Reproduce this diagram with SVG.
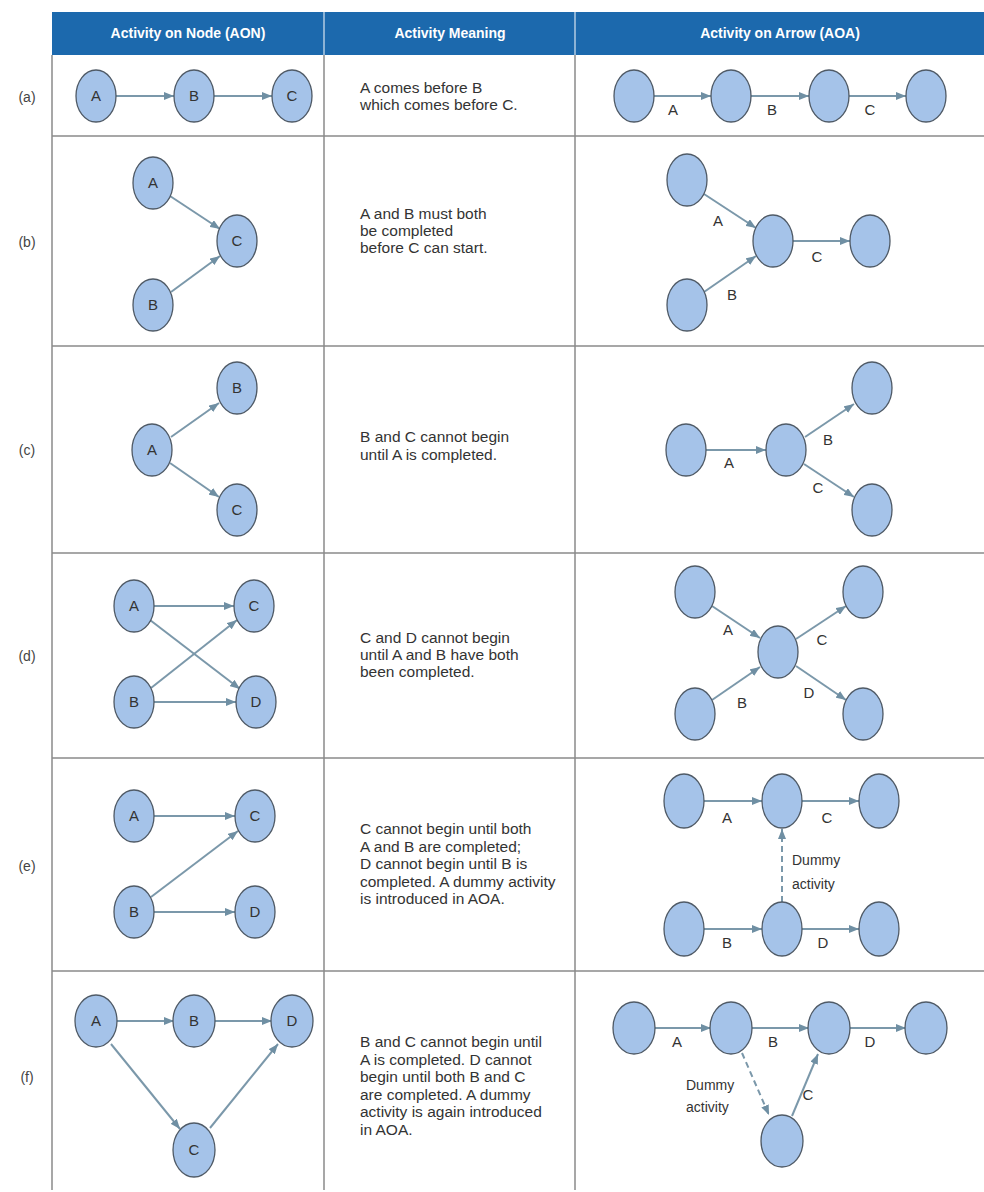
<svg xmlns="http://www.w3.org/2000/svg" width="984" height="1192" viewBox="0 0 984 1192">
<style>
.bg{fill:#ffffff}
.hdr{fill:#1c69ad}
.hdrtxt{font-family:"Liberation Sans",Arial,sans-serif;font-size:14px;font-weight:bold;fill:#ffffff;text-anchor:middle}
.grid{stroke:#8a8a8a;stroke-width:1.5;fill:none}
.hdiv{stroke:#d8e4f0;stroke-width:1.2}
.rl{font-family:"Liberation Sans",Arial,sans-serif;font-size:14px;fill:#444;text-anchor:middle}
.n ellipse{fill:#a5c3e9;stroke:#4f5a66;stroke-width:1.3}
.n text{font-family:"Liberation Sans",Arial,sans-serif;font-size:15px;fill:#333;text-anchor:middle}
.e{stroke:#7b98aa;stroke-width:2;fill:none;marker-end:url(#ah)}
.d{stroke-dasharray:6 4}
.el{font-family:"Liberation Sans",Arial,sans-serif;font-size:15px;fill:#333;text-anchor:middle}
.dl{font-family:"Liberation Sans",Arial,sans-serif;font-size:14px;fill:#333}
.m{font-family:"Liberation Sans",Arial,sans-serif;font-size:15.5px;fill:#333}
</style>
<defs>
<marker id="ah" markerUnits="userSpaceOnUse" markerWidth="10" markerHeight="8" refX="10" refY="4" orient="auto">
<path d="M0,0 L10,4 L0,8 z" fill="#6f8fa3"/>
</marker>
</defs>
<rect class="bg" x="0" y="0" width="984" height="1192"/>
<g id="table">
<rect class="hdr" x="52" y="12" width="932" height="43"/>
<line class="hdiv" x1="324" y1="12" x2="324" y2="55"/>
<line class="hdiv" x1="575" y1="12" x2="575" y2="55"/>
<text class="hdrtxt" x="188" y="38">Activity on Node (AON)</text>
<text class="hdrtxt" x="450" y="38">Activity Meaning</text>
<text class="hdrtxt" x="780" y="38">Activity on Arrow (AOA)</text>
<line class="grid" x1="52" y1="55" x2="52" y2="1190"/>
<line class="grid" x1="324" y1="55" x2="324" y2="1190"/>
<line class="grid" x1="575" y1="55" x2="575" y2="1190"/>
<line class="grid" x1="52" y1="136" x2="984" y2="136"/>
<line class="grid" x1="52" y1="346" x2="984" y2="346"/>
<line class="grid" x1="52" y1="553" x2="984" y2="553"/>
<line class="grid" x1="52" y1="758" x2="984" y2="758"/>
<line class="grid" x1="52" y1="971" x2="984" y2="971"/>
</g>
<g id="row-labels">
<text class="rl" x="27" y="102">(a)</text>
<text class="rl" x="27" y="247">(b)</text>
<text class="rl" x="27" y="455">(c)</text>
<text class="rl" x="27" y="661">(d)</text>
<text class="rl" x="27" y="871">(e)</text>
<text class="rl" x="27" y="1082">(f)</text>
</g>
<g id="meanings">
<text class="m" x="360" y="93">A comes before B</text>
<text class="m" x="360" y="110">which comes before C.</text>
<text class="m" x="360" y="219">A and B must both</text>
<text class="m" x="360" y="236">be completed</text>
<text class="m" x="360" y="253">before C can start.</text>
<text class="m" x="360" y="442">B and C cannot begin</text>
<text class="m" x="360" y="460">until A is completed.</text>
<text class="m" x="360" y="643">C and D cannot begin</text>
<text class="m" x="360" y="660">until A and B have both</text>
<text class="m" x="360" y="677">been completed.</text>
<text class="m" x="360" y="834">C cannot begin until both</text>
<text class="m" x="360" y="851.5">A and B are completed;</text>
<text class="m" x="360" y="869">D cannot begin until B is</text>
<text class="m" x="360" y="886.5">completed. A dummy activity</text>
<text class="m" x="360" y="904">is introduced in AOA.</text>
<text class="m" x="360" y="1047">B and C cannot begin until</text>
<text class="m" x="360" y="1064.5">A is completed. D cannot</text>
<text class="m" x="360" y="1082">begin until both B and C</text>
<text class="m" x="360" y="1099.5">are completed. A dummy</text>
<text class="m" x="360" y="1117">activity is again introduced</text>
<text class="m" x="360" y="1134.5">in AOA.</text>
</g>
<g id="connectors">
<line class="e" x1="116" y1="96" x2="174" y2="96"/>
<line class="e" x1="214" y1="96" x2="272" y2="96"/>
<line class="e" x1="654" y1="96" x2="711" y2="96"/>
<line class="e" x1="751" y1="96" x2="809" y2="96"/>
<line class="e" x1="849" y1="96" x2="906" y2="96"/>
<line class="e" x1="170" y1="196" x2="220" y2="229"/>
<line class="e" x1="171" y1="292" x2="220" y2="256"/>
<line class="e" x1="704" y1="194" x2="756" y2="228"/>
<line class="e" x1="704" y1="292" x2="756" y2="256"/>
<line class="e" x1="793" y1="241" x2="850" y2="241"/>
<line class="e" x1="171" y1="437" x2="219" y2="403"/>
<line class="e" x1="170" y1="463" x2="219" y2="497"/>
<line class="e" x1="706" y1="450" x2="766" y2="450"/>
<line class="e" x1="805" y1="437" x2="854" y2="404"/>
<line class="e" x1="804" y1="464" x2="854" y2="497"/>
<line class="e" x1="154" y1="606" x2="234" y2="606"/>
<line class="e" x1="150" y1="620" x2="240" y2="689"/>
<line class="e" x1="151" y1="688" x2="237" y2="620"/>
<line class="e" x1="154" y1="702" x2="236" y2="702"/>
<line class="e" x1="712" y1="606" x2="760" y2="638"/>
<line class="e" x1="712" y1="700" x2="760" y2="667"/>
<line class="e" x1="796" y1="639" x2="846" y2="606"/>
<line class="e" x1="796" y1="666" x2="846" y2="700"/>
<line class="e" x1="154" y1="816" x2="235" y2="816"/>
<line class="e" x1="151" y1="897" x2="238" y2="831"/>
<line class="e" x1="154" y1="912" x2="235" y2="912"/>
<line class="e" x1="704" y1="801" x2="762" y2="801"/>
<line class="e" x1="802" y1="801" x2="859" y2="801"/>
<line class="e" x1="704" y1="929" x2="762" y2="929"/>
<line class="e" x1="802" y1="929" x2="859" y2="929"/>
<line class="e d" x1="782" y1="902" x2="782" y2="829"/>
<line class="e" x1="116" y1="1021" x2="174" y2="1021"/>
<line class="e" x1="214" y1="1021" x2="272" y2="1021"/>
<line class="e" x1="111" y1="1044" x2="180" y2="1129"/>
<line class="e" x1="210" y1="1128" x2="278" y2="1044"/>
<line class="e" x1="654" y1="1028" x2="711" y2="1028"/>
<line class="e" x1="751" y1="1028" x2="809" y2="1028"/>
<line class="e" x1="849" y1="1028" x2="906" y2="1028"/>
<line class="e d" x1="742" y1="1053" x2="769" y2="1115"/>
<line class="e" x1="792" y1="1116" x2="818" y2="1054"/>
</g>
<g id="edge-labels">
<text class="el" x="673" y="115">A</text>
<text class="el" x="772" y="115">B</text>
<text class="el" x="870" y="115">C</text>
<text class="el" x="718" y="226">A</text>
<text class="el" x="732" y="300">B</text>
<text class="el" x="817" y="262">C</text>
<text class="el" x="729" y="468">A</text>
<text class="el" x="828" y="445">B</text>
<text class="el" x="818" y="493">C</text>
<text class="el" x="728" y="635">A</text>
<text class="el" x="822" y="645">C</text>
<text class="el" x="742" y="708">B</text>
<text class="el" x="809" y="698">D</text>
<text class="el" x="727" y="823">A</text>
<text class="el" x="827" y="823">C</text>
<text class="el" x="727" y="948">B</text>
<text class="el" x="823" y="948">D</text>
<text class="dl" x="792" y="865">Dummy</text>
<text class="dl" x="792" y="889">activity</text>
<text class="el" x="677" y="1047">A</text>
<text class="el" x="773" y="1047">B</text>
<text class="el" x="870" y="1047">D</text>
<text class="el" x="808" y="1100">C</text>
<text class="dl" x="686" y="1090">Dummy</text>
<text class="dl" x="686" y="1112">activity</text>
</g>
<g id="a-aon-A" class="n"><ellipse cx="96" cy="96" rx="20" ry="26"/><text x="96" y="101">A</text></g>
<g id="a-aon-B" class="n"><ellipse cx="194" cy="96" rx="20" ry="26"/><text x="194" y="101">B</text></g>
<g id="a-aon-C" class="n"><ellipse cx="292" cy="96" rx="20" ry="26"/><text x="292" y="101">C</text></g>
<g id="a-aoa-1" class="n"><ellipse cx="634" cy="96" rx="20" ry="26"/></g>
<g id="a-aoa-2" class="n"><ellipse cx="731" cy="96" rx="20" ry="26"/></g>
<g id="a-aoa-3" class="n"><ellipse cx="829" cy="96" rx="20" ry="26"/></g>
<g id="a-aoa-4" class="n"><ellipse cx="926" cy="96" rx="20" ry="26"/></g>
<g id="b-aon-A" class="n"><ellipse cx="153" cy="183" rx="20" ry="26"/><text x="153" y="188">A</text></g>
<g id="b-aon-C" class="n"><ellipse cx="237" cy="241" rx="20" ry="26"/><text x="237" y="246">C</text></g>
<g id="b-aon-B" class="n"><ellipse cx="153" cy="305" rx="20" ry="26"/><text x="153" y="310">B</text></g>
<g id="b-aoa-1" class="n"><ellipse cx="687" cy="180" rx="20" ry="26"/></g>
<g id="b-aoa-2" class="n"><ellipse cx="773" cy="241" rx="20" ry="26"/></g>
<g id="b-aoa-3" class="n"><ellipse cx="870" cy="241" rx="20" ry="26"/></g>
<g id="b-aoa-4" class="n"><ellipse cx="687" cy="305" rx="20" ry="26"/></g>
<g id="c-aon-A" class="n"><ellipse cx="152" cy="450" rx="20" ry="26"/><text x="152" y="455">A</text></g>
<g id="c-aon-B" class="n"><ellipse cx="237" cy="388" rx="20" ry="26"/><text x="237" y="393">B</text></g>
<g id="c-aon-C" class="n"><ellipse cx="237" cy="510" rx="20" ry="26"/><text x="237" y="515">C</text></g>
<g id="c-aoa-1" class="n"><ellipse cx="686" cy="450" rx="20" ry="26"/></g>
<g id="c-aoa-2" class="n"><ellipse cx="786" cy="450" rx="20" ry="26"/></g>
<g id="c-aoa-3" class="n"><ellipse cx="872" cy="388" rx="20" ry="26"/></g>
<g id="c-aoa-4" class="n"><ellipse cx="872" cy="510" rx="20" ry="26"/></g>
<g id="d-aon-A" class="n"><ellipse cx="134" cy="606" rx="20" ry="26"/><text x="134" y="611">A</text></g>
<g id="d-aon-C" class="n"><ellipse cx="254" cy="606" rx="20" ry="26"/><text x="254" y="611">C</text></g>
<g id="d-aon-B" class="n"><ellipse cx="134" cy="702" rx="20" ry="26"/><text x="134" y="707">B</text></g>
<g id="d-aon-D" class="n"><ellipse cx="256" cy="702" rx="20" ry="26"/><text x="256" y="707">D</text></g>
<g id="d-aoa-1" class="n"><ellipse cx="695" cy="592" rx="20" ry="26"/></g>
<g id="d-aoa-2" class="n"><ellipse cx="863" cy="592" rx="20" ry="26"/></g>
<g id="d-aoa-3" class="n"><ellipse cx="778" cy="652" rx="20" ry="26"/></g>
<g id="d-aoa-4" class="n"><ellipse cx="695" cy="714" rx="20" ry="26"/></g>
<g id="d-aoa-5" class="n"><ellipse cx="863" cy="714" rx="20" ry="26"/></g>
<g id="e-aon-A" class="n"><ellipse cx="134" cy="816" rx="20" ry="26"/><text x="134" y="821">A</text></g>
<g id="e-aon-C" class="n"><ellipse cx="255" cy="816" rx="20" ry="26"/><text x="255" y="821">C</text></g>
<g id="e-aon-B" class="n"><ellipse cx="134" cy="912" rx="20" ry="26"/><text x="134" y="917">B</text></g>
<g id="e-aon-D" class="n"><ellipse cx="255" cy="912" rx="20" ry="26"/><text x="255" y="917">D</text></g>
<g id="e-aoa-1" class="n"><ellipse cx="684" cy="801" rx="20" ry="27"/></g>
<g id="e-aoa-2" class="n"><ellipse cx="782" cy="801" rx="20" ry="27"/></g>
<g id="e-aoa-3" class="n"><ellipse cx="879" cy="801" rx="20" ry="27"/></g>
<g id="e-aoa-4" class="n"><ellipse cx="684" cy="929" rx="20" ry="27"/></g>
<g id="e-aoa-5" class="n"><ellipse cx="782" cy="929" rx="20" ry="27"/></g>
<g id="e-aoa-6" class="n"><ellipse cx="879" cy="929" rx="20" ry="27"/></g>
<g id="f-aon-A" class="n"><ellipse cx="96" cy="1021" rx="21" ry="26"/><text x="96" y="1026">A</text></g>
<g id="f-aon-B" class="n"><ellipse cx="194" cy="1021" rx="21" ry="26"/><text x="194" y="1026">B</text></g>
<g id="f-aon-D" class="n"><ellipse cx="292" cy="1021" rx="21" ry="26"/><text x="292" y="1026">D</text></g>
<g id="f-aon-C" class="n"><ellipse cx="194" cy="1150" rx="21" ry="27"/><text x="194" y="1155">C</text></g>
<g id="f-aoa-1" class="n"><ellipse cx="634" cy="1028" rx="21" ry="26"/></g>
<g id="f-aoa-2" class="n"><ellipse cx="731" cy="1028" rx="21" ry="26"/></g>
<g id="f-aoa-3" class="n"><ellipse cx="829" cy="1028" rx="21" ry="26"/></g>
<g id="f-aoa-4" class="n"><ellipse cx="926" cy="1028" rx="21" ry="26"/></g>
<g id="f-aoa-5" class="n"><ellipse cx="782" cy="1141" rx="21" ry="26"/></g>
</svg>
